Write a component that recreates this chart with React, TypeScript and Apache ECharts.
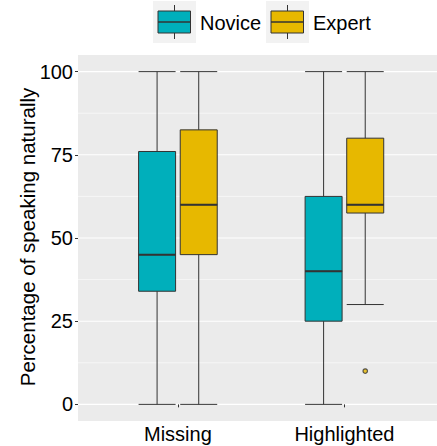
import React, { useEffect, useRef } from 'react';
import * as echarts from 'echarts';

const categories = ['Missing', 'Highlighted'];
const groups = ['Novice', 'Expert'];
// [min, Q1, median, Q3, max] per category
const noviceBoxes = [
  [0, 34, 45, 76, 100],
  [0, 25, 40, 62.5, 100],
];
const expertBoxes = [
  [0, 45, 60, 82.5, 100],
  [30, 57.5, 60, 80, 100],
];
// [categoryIndex, value]
const expertOutliers = [[1, 10]];
const yTicks = [0, 25, 50, 75, 100];
const yMinorTicks = [12.5, 37.5, 62.5, 87.5];
const colors = ['#00AFBB', '#E7B800'];

const FONT = 'Liberation Sans, Arial, Helvetica, sans-serif';
const DODGE = 0.125;
const BOX_W = 37;
const LINE = '#333333';
const X_MIN = 0.4;
const X_MAX = 2.556;

export default function App() {
  const ref = useRef<HTMLDivElement>(null);
  useEffect(() => {
    if (!ref.current) return;
    const chart = echarts.init(ref.current, null, { renderer: 'svg' });

    const boxData = (boxes: number[][], off: number) =>
      boxes.map((b, i) => [i + 1 + off, ...b]);
    const medData = (boxes: number[][], off: number) =>
      boxes.map((b, i) => [i + 1 + off, b[2]]);

    const gridLineData = [
      ...yMinorTicks.map((v) => [1.5, v, 0]),
      ...yTicks.map((v) => [1.5, v, 1]),
    ];

    const medianSeries = (data: number[][], xi: number) => ({
      type: 'custom',
      xAxisIndex: xi,
      yAxisIndex: 0,
      silent: true,
      z: 5,
      data,
      renderItem: (params: any, api: any) => {
        const p = api.coord([api.value(0), api.value(1)]);
        return {
          type: 'line',
          shape: { x1: p[0] - BOX_W / 2, y1: p[1], x2: p[0] + BOX_W / 2, y2: p[1] },
          style: { stroke: LINE, lineWidth: 2 },
        };
      },
    });

    const legendKey = (x: number, color: string, label: string) => ({
      type: 'group',
      children: [
        { type: 'rect', shape: { x, y: 1, width: 43, height: 42 }, style: { fill: '#F2F2F2' } },
        { type: 'line', shape: { x1: x + 21.5, y1: 5, x2: x + 21.5, y2: 39 }, style: { stroke: LINE, lineWidth: 1 } },
        { type: 'rect', shape: { x: x + 5, y: 11, width: 32.5, height: 22 }, style: { fill: color, stroke: LINE, lineWidth: 1 } },
        { type: 'line', shape: { x1: x + 5, y1: 22, x2: x + 37.5, y2: 22 }, style: { stroke: LINE, lineWidth: 1.5 } },
        {
          type: 'text', x: x + 47, y: 23,
          style: { text: label, fontSize: 20, fontFamily: FONT, fill: '#000', align: 'left', verticalAlign: 'middle' },
        },
      ],
    });

    chart.setOption({
      animation: false,
      grid: [{ left: 78, top: 55, right: 0, height: 366, show: true, backgroundColor: '#EBEBEB', borderWidth: 0 }],
      xAxis: [
        {
          type: 'value', gridIndex: 0, min: X_MIN, max: X_MAX,
          axisLine: { show: false },
          splitLine: { show: false },
          axisTick: { show: true, customValues: [1, 2], length: 3, lineStyle: { color: LINE, width: 1 } },
          axisLabel: {
            customValues: [1, 2],
            formatter: (v: number) => categories[Math.round(v) - 1],
            fontSize: 20, fontFamily: FONT, color: '#000', margin: 3,
          },
        },
        { type: 'value', gridIndex: 0, min: X_MIN, max: X_MAX, show: false },
      ],
      yAxis: [
        {
          type: 'value', gridIndex: 0, min: -5, max: 105,
          axisLine: { show: false },
          splitLine: { show: false },
          axisTick: { show: true, customValues: yTicks, length: 3, lineStyle: { color: LINE, width: 1 } },
          axisLabel: { customValues: yTicks, fontSize: 20, fontFamily: FONT, color: '#000', margin: 5 },
        },
      ],
      graphic: [
        legendKey(153, colors[0], groups[0]),
        legendKey(266, colors[1], groups[1]),
        {
          type: 'text', x: 27, y: 237, rotation: Math.PI / 2,
          style: {
            text: 'Percentage of speaking naturally', fontSize: 20.5, fontFamily: FONT,
            fill: '#000', align: 'center', verticalAlign: 'middle',
          },
        },
      ],
      series: [
        {
          type: 'custom',
          xAxisIndex: 0, yAxisIndex: 0, silent: true, z: 0,
          data: gridLineData,
          renderItem: (params: any, api: any) => {
            const y = api.value(1);
            const p = api.coord([X_MIN, y]);
            const q = api.coord([X_MAX, y]);
            return {
              type: 'line',
              shape: { x1: p[0], y1: p[1], x2: q[0], y2: q[1] },
              style: { stroke: '#FFFFFF', lineWidth: api.value(2) ? 1.1 : 0.55 },
            };
          },
        },
        {
          type: 'boxplot', name: groups[0], xAxisIndex: 0, yAxisIndex: 0, z: 3,
          boxWidth: [BOX_W, BOX_W],
          data: boxData(noviceBoxes, -DODGE),
          itemStyle: { color: colors[0], borderColor: LINE, borderWidth: 1 },
        },
        {
          type: 'boxplot', name: groups[1], xAxisIndex: 1, yAxisIndex: 0, z: 3,
          boxWidth: [BOX_W, BOX_W],
          data: boxData(expertBoxes, DODGE),
          itemStyle: { color: colors[1], borderColor: LINE, borderWidth: 1 },
        },
        medianSeries(medData(noviceBoxes, -DODGE), 0),
        medianSeries(medData(expertBoxes, DODGE), 1),
        {
          type: 'scatter', name: groups[1] + ' outliers', xAxisIndex: 1, yAxisIndex: 0, z: 6,
          symbol: 'circle', symbolSize: 4.5,
          data: expertOutliers.map(([i, v]) => [i + 1 + DODGE, v]),
          itemStyle: { color: colors[1], borderColor: LINE, borderWidth: 1.2 },
        },
      ],
    });
    return () => chart.dispose();
  }, []);

  return (
    <div
      ref={ref}
      style={{ position: 'fixed', left: 0, top: 0, width: 437, height: 446, background: '#fff' }}
    />
  );
}
